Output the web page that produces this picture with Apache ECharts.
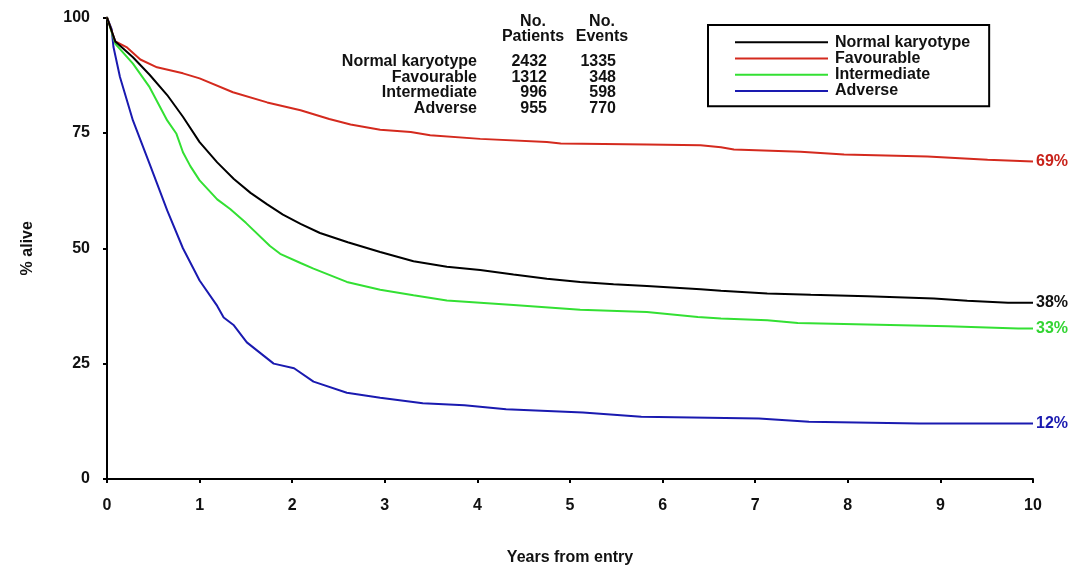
<!DOCTYPE html>
<html>
<head>
<meta charset="utf-8">
<script src="https://cdn.jsdelivr.net/npm/echarts@6/dist/echarts.min.js"></script>
<style>html,body{margin:0;padding:0;background:#fff}#c{width:1080px;height:566px}</style>
</head>
<body>
<div id="c"></div>
<script>
// ---- data ----
var seriesNames = ['Normal karyotype', 'Favourable', 'Intermediate', 'Adverse'];
var patients = [2432, 1312, 996, 955];
var events = [1335, 348, 598, 770];
var endLabels = ['38%', '69%', '33%', '12%'];
var xTicks = [0, 1, 2, 3, 4, 5, 6, 7, 8, 9, 10];
var yTicks = [0, 25, 50, 75, 100];

var normalKaryotype = [
  [0,100],[0.09,94.8],[0.28,91.4],[0.46,87.6],[0.65,83.2],[0.82,78.5],[1.0,73.0],[1.19,68.6],
  [1.37,65.0],[1.55,62.0],[1.73,59.5],[1.9,57.3],[2.09,55.3],[2.3,53.3],[2.6,51.3],[2.95,49.2],
  [3.31,47.2],[3.67,46.0],[4.03,45.3],[4.39,44.3],[4.75,43.4],[5.11,42.7],[5.47,42.2],[5.83,41.8],
  [6.41,41.1],[6.63,40.8],[7.13,40.2],[7.6,39.9],[8.21,39.6],[8.93,39.1],[9.29,38.6],[9.73,38.2],[10,38.2]
];
var favourable = [
  [0,100],[0.09,94.8],[0.21,93.6],[0.36,90.9],[0.54,89.2],[0.82,87.9],[1.0,86.8],[1.36,83.8],
  [1.73,81.6],[2.09,79.9],[2.4,78.0],[2.63,76.8],[2.95,75.7],[3.28,75.2],[3.49,74.5],[4.03,73.7],
  [4.75,73.0],[4.9,72.7],[5.83,72.5],[6.41,72.3],[6.63,71.9],[6.77,71.4],[7.49,70.9],[7.96,70.3],
  [8.86,69.9],[9.51,69.2],[10,68.8]
];
var intermediate = [
  [0,100],[0.09,94.3],[0.28,90.0],[0.46,84.9],[0.65,77.7],[0.75,74.8],[0.82,70.8],[0.9,67.8],
  [1.0,64.7],[1.19,60.6],[1.33,58.5],[1.5,55.5],[1.76,50.5],[1.87,48.8],[2.09,46.8],[2.23,45.6],
  [2.59,42.7],[2.95,41.0],[3.31,39.8],[3.67,38.7],[4.39,37.7],[5.11,36.7],[5.83,36.2],[6.38,35.1],
  [6.63,34.8],[7.13,34.4],[7.46,33.8],[9.08,33.1],[9.84,32.6],[10,32.6]
];
var adverse = [
  [0,100],[0.05,97.5],[0.07,93.6],[0.14,87.1],[0.28,77.7],[0.46,68.3],[0.65,58.2],[0.82,50.0],
  [1.0,43.0],[1.19,37.5],[1.26,35.0],[1.37,33.3],[1.51,29.6],[1.8,25.0],[2.02,24.0],[2.23,21.1],
  [2.59,18.7],[2.95,17.6],[3.41,16.4],[3.86,16.0],[4.31,15.1],[5.14,14.4],[5.77,13.5],[7.04,13.1],
  [7.58,12.4],[8.77,12.0],[10,12.0]
];
var seriesData = [normalKaryotype, favourable, intermediate, adverse];

// ---- styling ----
var FONT = 'Liberation Sans, Arial, Helvetica, sans-serif';
var FS = 16;
var lineColors = ['#000000', '#d42a1e', '#33e033', '#1a1ab0'];
var labelColors = ['#111111', '#c8221a', '#33d433', '#1a1ab0'];

var chart = echarts.init(document.getElementById('c'), null, {renderer: 'canvas'});

var series = seriesNames.map(function (n, i) {
  return {
    name: n,
    type: 'line',
    data: seriesData[i],
    showSymbol: false,
    symbol: 'none',
    smooth: false,
    z: 10 - i,
    lineStyle: {color: lineColors[i], width: 2},
    itemStyle: {color: lineColors[i]},
    endLabel: {
      show: true,
      formatter: endLabels[i],
      color: labelColors[i],
      fontFamily: FONT,
      fontWeight: 'bold',
      fontSize: FS,
      distance: 3
    },
    animation: false
  };
});

var graphics = [];
var tStyle = function (t, x, y, align) {
  return {type: 'text', x: x, y: y,
    style: {text: t, fill: '#111', font: 'bold ' + FS + 'px ' + FONT, textAlign: align, textVerticalAlign: 'middle'}};
};
graphics.push(tStyle('No.', 533, 22, 'center'));
graphics.push(tStyle('Patients', 533, 37, 'center'));
graphics.push(tStyle('No.', 602, 22, 'center'));
graphics.push(tStyle('Events', 602, 37, 'center'));
var rowY = [62, 77.5, 93, 109];
seriesNames.forEach(function (n, i) {
  graphics.push(tStyle(n, 477, rowY[i], 'right'));
  graphics.push(tStyle(String(patients[i]), 547, rowY[i], 'right'));
  graphics.push(tStyle(String(events[i]), 616, rowY[i], 'right'));
});

chart.setOption({
  animation: false,
  backgroundColor: '#ffffff',
  grid: {left: 107, right: 47, top: 17.5, bottom: 87, containLabel: false, outerBoundsMode: 'none'},
  legend: {
    data: seriesNames,
    orient: 'vertical',
    left: 708,
    top: 25,
    padding: [9, 19, 7, 27],
    itemGap: 0,
    itemWidth: 93,
    itemHeight: 2,
    icon: 'rect',
    borderColor: '#000',
    borderWidth: 2,
    selectedMode: false,
    textStyle: {fontFamily: FONT, fontWeight: 'bold', fontSize: FS, color: '#111', lineHeight: 16.3, padding: [0, 0, 0, 2]}
  },
  xAxis: {
    type: 'value',
    min: 0, max: 10, interval: 1,
    name: 'Years from entry',
    nameLocation: 'middle',
    nameGap: 71,
    nameTextStyle: {fontFamily: FONT, fontWeight: 'bold', fontSize: FS, color: '#111'},
    axisLine: {show: true, lineStyle: {color: '#000', width: 2}},
    axisTick: {show: true, length: 4, lineStyle: {color: '#000', width: 2}},
    axisLabel: {fontFamily: FONT, fontWeight: 'bold', fontSize: FS, color: '#111', margin: 19,
      formatter: function (v) { return xTicks.indexOf(v) >= 0 ? String(v) : ''; }},
    splitLine: {show: false}
  },
  yAxis: {
    type: 'value',
    min: 0, max: 100, interval: 25,
    name: '% alive',
    nameLocation: 'middle',
    nameGap: 71,
    nameRotate: 90,
    nameTextStyle: {fontFamily: FONT, fontWeight: 'bold', fontSize: FS, color: '#111'},
    axisLine: {show: true, lineStyle: {color: '#000', width: 2}},
    axisTick: {show: true, length: 4, lineStyle: {color: '#000', width: 2}},
    axisLabel: {fontFamily: FONT, fontWeight: 'bold', fontSize: FS, color: '#111', margin: 17,
      formatter: function (v) { return yTicks.indexOf(v) >= 0 ? String(v) : ''; }},
    splitLine: {show: false}
  },
  graphic: graphics,
  series: series
});
</script>
</body>
</html>
